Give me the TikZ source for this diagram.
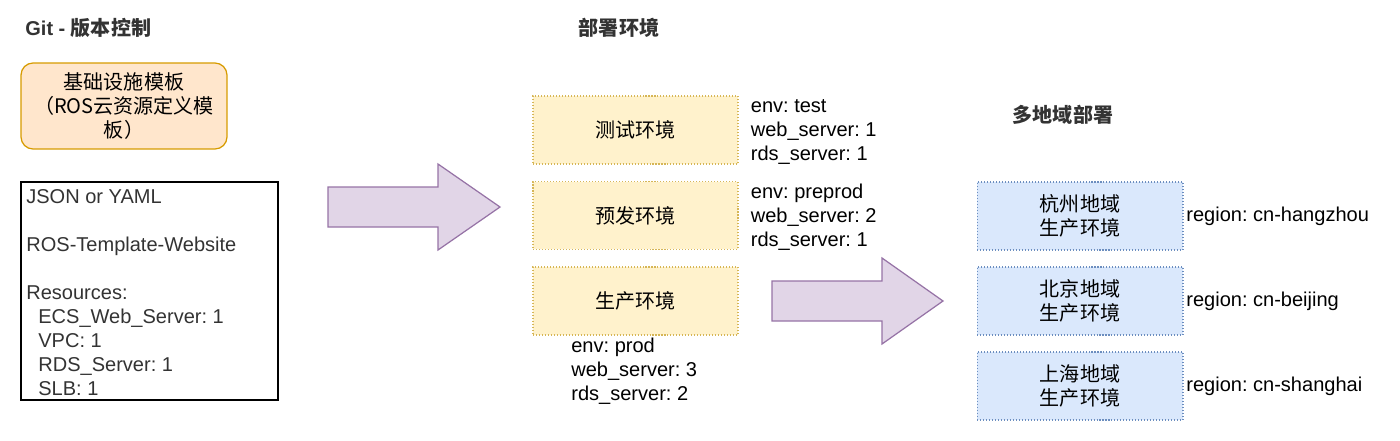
\documentclass[tikz,border=0pt]{standalone}
\usepackage{fontspec}
\setmainfont{Liberation Sans}
\newfontfamily\cjk{Noto Sans CJK SC}
\usetikzlibrary{positioning}
\definecolor{cyellow}{HTML}{fff2cc}
\definecolor{cyellowline}{HTML}{d6b656}
\definecolor{cblue}{HTML}{dae8fc}
\definecolor{cblueline}{HTML}{6c8ebf}
\definecolor{corange}{HTML}{ffe6cc}
\definecolor{corangeline}{HTML}{d79b00}
\definecolor{cpurple}{HTML}{e1d5e7}
\definecolor{cpurpleline}{HTML}{9673a6}
\definecolor{cink}{HTML}{333333}
\newcommand{\txtsize}{\fontsize{11.4}{13.66}\selectfont}
\frenchspacing

\begin{document}
\begin{tikzpicture}[x=0.02cm, y=-0.02cm, every node/.style={font=\txtsize, inner sep=0pt},
    envbox/.style={draw=cyellowline, fill=cyellow, line width=0.6pt, dash pattern=on 0.6pt off 1.1pt, minimum width=4.1cm, minimum height=1.36cm, font=\cjk\txtsize},
    regionbox/.style={envbox, draw=cblueline, fill=cblue, minimum width=4.12cm, align=center},
    bigarrow/.style={draw=cpurpleline, fill=cpurple, line width=0.7pt, line join=miter},
    heading/.style={text=cink, font=\bfseries\txtsize},
    note/.style={align=left}]
      \useasboundingbox (0,0) rectangle (1400,440);
      \node[heading, anchor=west] (git) at (25,28) {Git - {\cjk 版本控制}};
      \node[heading] (deploy) at (619,28) {\cjk 部署环境};
      \node[heading] (multi) at (1063,115) {\cjk 多地域部署};
      \node[draw=corangeline, fill=corange, line width=0.7pt, rounded corners=0.24cm, minimum width=4.12cm, minimum height=1.72cm, align=center, font=\cjk\txtsize] (tpl) at (124,106) {基础设施模板\\（ROS云资源定义模\\板）};
      \node[draw, line width=0.8pt, minimum width=5.14cm, minimum height=4.36cm] (src) at (149.5,291) {};
      \node[note, text=cink, anchor=west] (srctxt) at (26,292.5) {JSON or YAML\\\strut\\ROS-Template-Website\\\strut\\Resources:\\\hspace*{0.24cm}ECS\_Web\_Server: 1\\\hspace*{0.24cm}VPC: 1\\\hspace*{0.24cm}RDS\_Server: 1\\\hspace*{0.24cm}SLB: 1};
      \draw[bigarrow] (328,187) -- (438,187) -- (438,164) -- (500,207) -- (438,250) -- (438,227) -- (328,227) -- cycle;
      \node[envbox] (test) at (635.5,130) {测试环境};
      \node[envbox] (pre) at (635.5,215.5) {预发环境};
      \node[envbox] (prod) at (635.5,301) {生产环境};
      \node[note, right=0.24cm of test, yshift=-1pt] (testcfg) {env: test\\web\_server: 1\\rds\_server: 1};
      \node[note, right=0.24cm of pre, yshift=-1pt] (precfg) {env: preprod\\web\_server: 2\\rds\_server: 1};
      \node[note, anchor=north west] (prodcfg) at (571,338) {env: prod\\web\_server: 3\\rds\_server: 2};
      \draw[bigarrow] (772,281) -- (882,281) -- (882,258) -- (943,301) -- (882,344) -- (882,321) -- (772,321) -- cycle;
      \node[regionbox] (hz) at (1080,216) {杭州地域\\生产环境};
      \node[regionbox] (bj) at (1080,301) {北京地域\\生产环境};
      \node[regionbox] (sh) at (1080,386) {上海地域\\生产环境};
      \foreach \n/\r in {hz/cn-hangzhou, bj/cn-beijing, sh/cn-shanghai}
        \node[right=0.05cm of \n] (\n lbl) {region: \r};
    \end{tikzpicture}
\end{document}
